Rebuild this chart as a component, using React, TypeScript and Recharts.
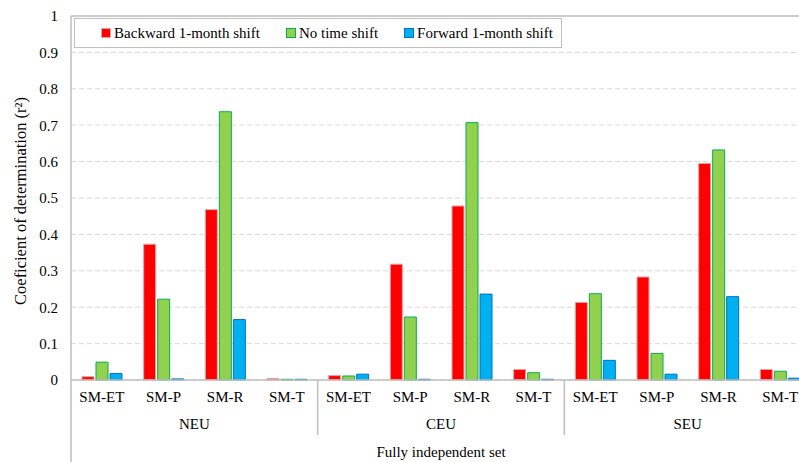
import { BarChart, Bar, XAxis, YAxis, CartesianGrid, ReferenceLine } from "recharts";

const regions = ["NEU", "CEU", "SEU"];
const variables = ["SM-ET", "SM-P", "SM-R", "SM-T"];
const yTicks = [0, 0.1, 0.2, 0.3, 0.4, 0.5, 0.6, 0.7, 0.8, 0.9, 1];

// NEU x4, CEU x4, SEU x4
const backwardShift = [0.009, 0.373, 0.468, 0.004, 0.012, 0.318, 0.478, 0.029, 0.213, 0.283, 0.595, 0.029];
const noShift = [0.049, 0.222, 0.737, 0.002, 0.011, 0.173, 0.707, 0.02, 0.237, 0.073, 0.632, 0.024];
const forwardShift = [0.018, 0.003, 0.166, 0.002, 0.016, 0.002, 0.236, 0.002, 0.054, 0.016, 0.229, 0.005];

const series = [
  { key: "backward", name: "Backward 1-month shift", fill: "#FF0000", stroke: "#E8A0A0" },
  { key: "none", name: "No time shift", fill: "#92D050", stroke: "#00B050" },
  { key: "forward", name: "Forward 1-month shift", fill: "#00B0F0", stroke: "#0070C0" },
];

const data = regions.flatMap((region, r) =>
  variables.map((v, i) => ({
    key: region + "|" + v,
    region,
    variable: v,
    backward: backwardShift[r * 4 + i],
    none: noShift[r * 4 + i],
    forward: forwardShift[r * 4 + i],
  }))
);

const W = 830;
const H = 462;
const margin = { top: 16, right: 19, left: 0, bottom: 0 };
const yAxisWidth = 71;
const xAxisHeight = 82;
const plotW = W - margin.left - margin.right - yAxisWidth;
const band = plotW / data.length;
const font = "Liberation Serif";
const axisGrey = "#BFBFBF";

const CategoryTick = (props: any) => {
  const { x, y, index } = props;
  const row = data[index];
  const n = variables.length;
  const pos = index % n;
  return (
    <g>
      <text x={x} y={y + 22} textAnchor="middle" fontSize={15} fontFamily={font} fill="#000">
        {row.variable}
      </text>
      {pos === 0 && (
        <line
          x1={x - band / 2}
          x2={x - band / 2}
          y1={y}
          y2={index === 0 ? y + 82 : y + 55}
          stroke={axisGrey}
          strokeWidth={1.5}
        />
      )}
      {pos === 0 && (
        <text x={x + (band * (n - 1)) / 2} y={y + 49} textAnchor="middle" fontSize={15} fontFamily={font} fill="#000">
          {row.region}
        </text>
      )}
      {index === 0 && (
        <text x={x - band / 2 + plotW / 2} y={y + 77} textAnchor="middle" fontSize={15} fontFamily={font} fill="#000">
          Fully independent set
        </text>
      )}
    </g>
  );
};

const LegendBox = () => (
  <div
    style={{
      position: "absolute",
      left: 74,
      top: 18,
      width: 468,
      height: 28,
      border: "1.5px solid " + axisGrey,
      background: "#fff",
      display: "flex",
      alignItems: "center",
      justifyContent: "center",
      gap: 26,
      fontFamily: font,
      fontSize: 15,
      color: "#000",
      paddingLeft: 18,
      boxSizing: "content-box",
    }}
  >
    {series.map((s) => (
      <div key={s.key} style={{ display: "flex", alignItems: "center", gap: 3 }}>
        <span
          style={{
            display: "inline-block",
            width: 8,
            height: 8,
            background: s.fill,
            border: "1px solid " + s.stroke,
          }}
        />
        <span>{s.name}</span>
      </div>
    ))}
  </div>
);

export default function App() {
  return (
    <div style={{ position: "absolute", left: 0, top: 0, width: 799, height: 462, overflow: "hidden", background: "#fff" }}>
      <BarChart width={W} height={H} data={data} margin={margin} barSize={12} barGap={2}>
        <CartesianGrid vertical={false} stroke="#D9D9D9" strokeDasharray="5 3" />
        <ReferenceLine y={1} stroke={axisGrey} strokeWidth={1.5} />
        <XAxis
          dataKey="key"
          height={xAxisHeight}
          interval={0}
          tickLine={false}
          tickSize={0}
          tickMargin={0}
          axisLine={{ stroke: axisGrey, strokeWidth: 1.5 }}
          tick={<CategoryTick />}
        />
        <YAxis
          width={yAxisWidth}
          domain={[0, 1]}
          ticks={yTicks}
          interval={0}
          tickLine={false}
          tickSize={0}
          tickMargin={13}
          axisLine={{ stroke: axisGrey, strokeWidth: 1.5 }}
          tick={{ fontSize: 15, fontFamily: font, fill: "#000" }}
          tickFormatter={(v: number) => String(Math.round(v * 10) / 10)}
          label={(p: any) => {
            const vb = p.viewBox;
            const cx = vb.x + 20;
            const cy = vb.y + vb.height / 2 + 3;
            return (
              <text
                x={cx}
                y={cy}
                transform={`rotate(-90 ${cx} ${cy})`}
                textAnchor="middle"
                dominantBaseline="central"
                fontSize={16.5}
                fontFamily={font}
                fill="#000"
              >
                Coeficient of determination (r²)
              </text>
            );
          }}
        />
        {series.map((s) => (
          <Bar
            key={s.key}
            dataKey={s.key}
            name={s.name}
            fill={s.fill}
            stroke={s.stroke}
            strokeWidth={1}
            isAnimationActive={false}
          />
        ))}
      </BarChart>
      <LegendBox />
    </div>
  );
}
